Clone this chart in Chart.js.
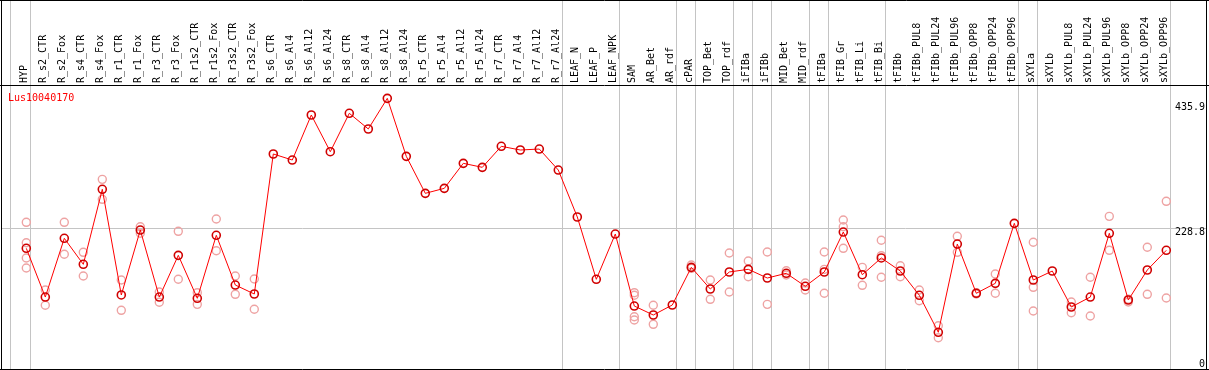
<!DOCTYPE html>
<html><head><meta charset="utf-8">
<script src="https://cdn.jsdelivr.net/npm/chart.js@4.4.1/dist/chart.umd.min.js"></script>
<style>html,body{margin:0;padding:0;background:#fff;overflow:hidden}canvas{display:block}</style>
</head><body>
<canvas id="c" width="1209" height="370" style="width:1209px;height:370px"></canvas>
<script>
const geneName = 'Lus10040170';
const categories = ['HYP','R_s2_CTR','R_s2_Fox','R_s4_CTR','R_s4_Fox','R_r1_CTR','R_r1_Fox','R_r3_CTR','R_r3_Fox','R_r1s2_CTR','R_r1s2_Fox','R_r3s2_CTR','R_r3s2_Fox','R_s6_CTR','R_s6_Al4','R_s6_Al12','R_s6_Al24','R_s8_CTR','R_s8_Al4','R_s8_Al12','R_s8_Al24','R_r5_CTR','R_r5_Al4','R_r5_Al12','R_r5_Al24','R_r7_CTR','R_r7_Al4','R_r7_Al12','R_r7_Al24','LEAF_N','LEAF_P','LEAF_NPK','SAM','AR_Bet','AR_rdf','cPAR','TOP_Bet','TOP_rdf','iFIBa','iFIBb','MID_Bet','MID_rdf','tFIBa','tFIB_Gr','tFIB_Li','tFIB_Bi','tFIBb','tFIBb_PUL8','tFIBb_PUL24','tFIBb_PUL96','tFIBb_OPP8','tFIBb_OPP24','tFIBb_OPP96','sXYLa','sXYLb','sXYLb_PUL8','sXYLb_PUL24','sXYLb_PUL96','sXYLb_OPP8','sXYLb_OPP24','sXYLb_OPP96'];
const meanValues = [196.3,115.6,212.9,169.8,294.1,119.0,226.6,115.6,184.7,113.5,217.9,135.5,120.6,352.6,342.6,417.2,356.4,420.0,394.0,444.8,348.7,287.4,295.7,337.1,330.5,365.3,359.2,360.8,326.0,248.2,145.0,220.0,100.7,85.8,102.4,164.8,128.9,157.1,161.5,147.1,154.9,133.4,157.1,223.3,152.6,180.3,158.7,118.5,57.2,203.4,121.8,138.3,237.7,143.8,158.7,99.1,115.6,221.2,110.7,160.4,193.0];
const replicateValues = [
 [239.4,205.6,180.3,163.7],[127.2,101.9],[239.4,186.4],[189.7,150.4],[310.6,277.5],[143.8,93.6],[232.1,221.2],[123.9,106.9],[224.5,145.0],[122.8,103.5],[244.9,192.3],[150.4,120.1],[145.5,95.3],
 [],[],[],[],[],[],[],[],[],[],[],[],[],[],[],[],[],[],[],
 [122.8,118.5,83.0,77.5],[101.9,70.4],[],[168.7,163.2],[143.8,111.8],[188.5,123.9],[175.3,149.3],[190.2,103.5],[159.2,152.1],[138.8,127.2],[190.2,161.5,121.8],[243.2,232.1,196.3],[164.8,135.0],[209.6,184.1,148.3],[167.5,149.3],[127.2,109.5],[68.1,48.2],[216.2,189.7],[122.8,120.6],[153.7,121.8],[],[206.3,131.7,92.4],[],[107.4,89.6],[148.3,84.2],[249.3,193.0],[111.8,107.4],[198.0,120.1],[274.2,114.0]
];
const yTickValues = [0, 228.8, 435.9];
const groupEnds = [0,28,31,34,35,37,38,39,41,42,45,52,53,60];

const meanPoints = meanValues.map((v, i) => ({x: i, y: v}));
const replicatePoints = [];
replicateValues.forEach((arr, i) => arr.forEach(v => replicatePoints.push({x: i, y: v})));

const FONT = '"DejaVu Sans Mono", "Liberation Mono", monospace';

const framePlugin = {
  id: 'frame',
  beforeDraw(chart) {
    const ctx = chart.ctx, xs = chart.scales.x, ca = chart.chartArea;
    ctx.save();
    ctx.fillStyle = '#fff';
    ctx.fillRect(0, 0, chart.width, chart.height);
    ctx.strokeStyle = '#c4c4c4';
    ctx.lineWidth = 1;
    const seps = [-0.82].concat(groupEnds.map(i => i + 0.23));
    seps.forEach(v => {
      const x = Math.floor(xs.getPixelForValue(v)) + 0.5;
      ctx.beginPath(); ctx.moveTo(x, 0); ctx.lineTo(x, ca.bottom); ctx.stroke();
    });
    ctx.restore();
  },
  afterDraw(chart) {
    const ctx = chart.ctx, ys = chart.scales.y, ca = chart.chartArea;
    ctx.save();
    ctx.fillStyle = '#000';
    ctx.font = '10px ' + FONT;
    ctx.textAlign = 'right';
    ctx.textBaseline = 'alphabetic';
    yTickValues.forEach(v => {
      let y = ys.getPixelForValue(v) + 6.5;
      y = Math.min(y, ca.bottom - 2.5);
      ctx.fillText(v === 0 ? '0' : v.toFixed(1), 1205, y);
    });
    ctx.strokeStyle = '#000';
    ctx.lineWidth = 1;
    ctx.beginPath();
    ctx.moveTo(1.5, 0); ctx.lineTo(1.5, 370);
    ctx.moveTo(1206.5, 0); ctx.lineTo(1206.5, 370);
    ctx.moveTo(0, 0.5); ctx.lineTo(1209, 0.5);
    ctx.moveTo(0, 369.5); ctx.lineTo(1209, 369.5);
    ctx.moveTo(0, 85.5); ctx.lineTo(1209, 85.5);
    ctx.stroke();
    ctx.fillStyle = '#ff0000';
    ctx.textAlign = 'left';
    ctx.fillText(geneName, 8, 101);
    ctx.restore();
  }
};

new Chart(document.getElementById('c'), {
  type: 'scatter',
  data: {
    datasets: [
      {label: 'mean', data: meanPoints, showLine: true, borderColor: '#ff0000', borderWidth: 1,
       pointRadius: 4, pointBorderColor: '#d00000', pointBorderWidth: 1.6, pointBackgroundColor: 'rgba(0,0,0,0)', tension: 0},
      {label: 'replicates', data: replicatePoints, showLine: false,
       pointRadius: 4, pointBorderColor: '#eea3a3', pointBorderWidth: 1.4, pointBackgroundColor: 'rgba(0,0,0,0)'}
    ]
  },
  options: {
    responsive: false,
    animation: false,
    events: [],
    devicePixelRatio: 1,
    layout: {autoPadding: false, padding: {top: 0, left: 1, right: 2, bottom: 1}},
    plugins: {legend: {display: false}, tooltip: {enabled: false}, title: {display: false}},
    scales: {
      x: {
        type: 'linear', position: 'top', bounds: 'data',
        min: -1.3316, max: 62.142,
        grid: {display: false, drawTicks: false},
        border: {display: false},
        afterBuildTicks: s => { s.ticks = categories.map((c, i) => ({value: i})); },
        afterFit: s => { s.height = 85; },
        ticks: {autoSkip: false, minRotation: 90, maxRotation: 90, padding: 2, labelOffset: 10,
                color: '#000', font: {family: FONT, size: 10, lineHeight: 1.2},
                callback: v => categories[v]}
      },
      y: {
        type: 'linear', position: 'right', bounds: 'data',
        min: -3.64, max: 466.9,
        afterBuildTicks: s => { s.ticks = yTickValues.map(v => ({value: v})); },
        afterFit: s => { s.width = 0; },
        ticks: {display: false},
        border: {display: false},
        grid: {drawTicks: false, lineWidth: 1,
               color: c => (c.tick && c.tick.value === yTickValues[1]) ? '#c4c4c4' : 'rgba(0,0,0,0)'}
      }
    }
  },
  plugins: [framePlugin]
});
</script>
</body></html>
